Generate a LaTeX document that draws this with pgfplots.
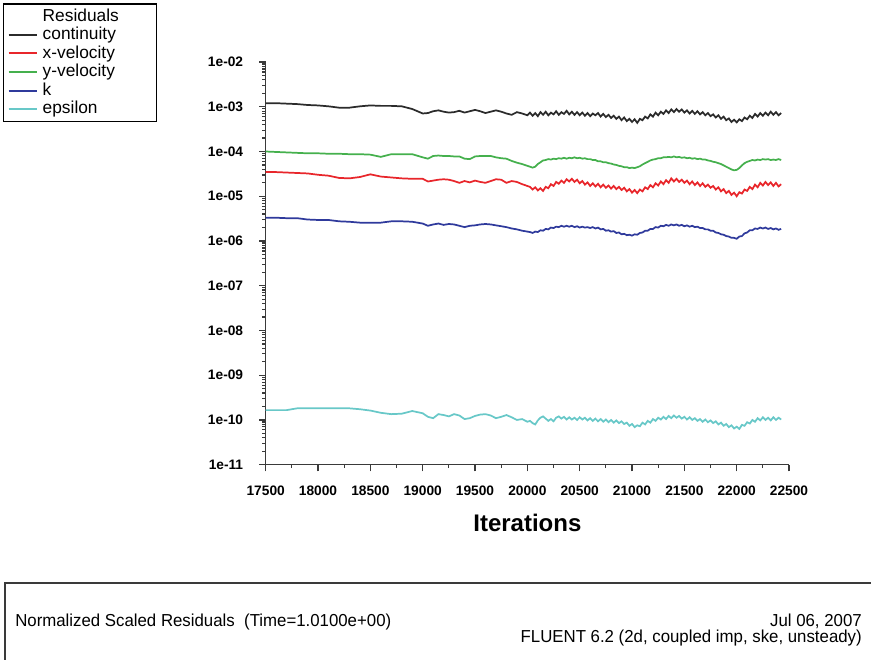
\documentclass[border=0pt]{standalone}
\usepackage{fontspec}
\setmainfont{Liberation Sans}
\newfontfamily\narrowfont[FakeStretch=0.97]{Liberation Sans}
\usepackage{pgfplots}
\usepackage{pgfplotstable}
\pgfplotsset{compat=1.18}
\definecolor{axisgray}{HTML}{3A3A3A}
\definecolor{ccont}{HTML}{2B2B2B}
\definecolor{cxv}{HTML}{E8262B}
\definecolor{cyv}{HTML}{45B04D}
\definecolor{ck}{HTML}{2F3A9C}
\definecolor{ceps}{HTML}{68C8C8}

% log10 of the residuals
\pgfplotstableread{
it c xv yv k eps
17500 -2.92 -4.46 -4.00 -5.48 -9.78
17600 -2.92 -4.46 -4.01 -5.48 -9.78
17700 -2.93 -4.47 -4.02 -5.49 -9.78
17800 -2.94 -4.48 -4.03 -5.49 -9.74
17900 -2.96 -4.49 -4.04 -5.52 -9.74
18000 -2.97 -4.52 -4.04 -5.53 -9.74
18100 -2.99 -4.54 -4.05 -5.53 -9.74
18200 -3.02 -4.59 -4.05 -5.56 -9.74
18300 -3.02 -4.60 -4.06 -5.57 -9.74
18400 -2.99 -4.57 -4.06 -5.59 -9.76
18500 -2.97 -4.51 -4.07 -5.59 -9.79
18600 -2.98 -4.56 -4.12 -5.59 -9.84
18700 -2.98 -4.58 -4.06 -5.56 -9.87
18800 -2.99 -4.60 -4.06 -5.56 -9.86
18900 -3.05 -4.61 -4.06 -5.57 -9.80
19000 -3.15 -4.61 -4.13 -5.61 -9.85
19050 -3.14 -4.67 -4.16 -5.66 -9.93
19100 -3.10 -4.65 -4.10 -5.63 -9.96
19150 -3.08 -4.63 -4.09 -5.61 -9.87
19200 -3.11 -4.62 -4.10 -5.64 -9.89
19250 -3.13 -4.63 -4.10 -5.62 -9.92
19300 -3.12 -4.66 -4.11 -5.63 -9.87
19350 -3.09 -4.70 -4.11 -5.66 -9.90
19400 -3.13 -4.66 -4.16 -5.69 -9.98
19450 -3.10 -4.69 -4.17 -5.66 -9.96
19500 -3.07 -4.65 -4.11 -5.65 -9.91
19550 -3.10 -4.68 -4.10 -5.63 -9.88
19600 -3.14 -4.70 -4.10 -5.62 -9.87
19650 -3.11 -4.66 -4.10 -5.63 -9.90
19700 -3.08 -4.62 -4.13 -5.65 -9.96
19750 -3.11 -4.63 -4.15 -5.67 -9.93
19800 -3.15 -4.70 -4.16 -5.69 -9.89
19850 -3.18 -4.66 -4.21 -5.72 -9.94
19900 -3.12 -4.68 -4.25 -5.74 -10.00
19950 -3.15 -4.73 -4.28 -5.77 -9.98
20000 -3.19 -4.77 -4.32 -5.79 -10.04
20025 -3.13 -4.79 -4.34 -5.80 -10.02
20050 -3.20 -4.85 -4.36 -5.82 -10.07
20075 -3.14 -4.80 -4.34 -5.79 -10.10
20100 -3.21 -4.87 -4.28 -5.80 -10.01
20125 -3.12 -4.82 -4.24 -5.76 -9.95
20150 -3.18 -4.88 -4.20 -5.77 -9.92
20175 -3.11 -4.79 -4.19 -5.73 -9.97
20200 -3.19 -4.82 -4.17 -5.74 -10.02
20225 -3.13 -4.73 -4.18 -5.70 -9.98
20250 -3.17 -4.77 -4.16 -5.71 -10.03
20275 -3.10 -4.68 -4.17 -5.68 -9.95
20300 -3.18 -4.72 -4.15 -5.69 -9.92
20325 -3.12 -4.65 -4.16 -5.66 -9.97
20350 -3.16 -4.70 -4.14 -5.68 -9.93
20375 -3.09 -4.62 -4.16 -5.66 -9.99
20400 -3.17 -4.67 -4.14 -5.68 -9.94
20425 -3.11 -4.61 -4.15 -5.66 -9.99
20450 -3.18 -4.68 -4.13 -5.69 -9.95
20475 -3.12 -4.63 -4.15 -5.67 -10.00
20500 -3.19 -4.71 -4.14 -5.70 -9.94
20525 -3.13 -4.66 -4.16 -5.68 -9.99
20550 -3.20 -4.74 -4.15 -5.70 -9.95
20575 -3.14 -4.69 -4.17 -5.69 -10.01
20600 -3.21 -4.77 -4.17 -5.71 -9.96
20625 -3.15 -4.71 -4.19 -5.69 -10.02
20650 -3.19 -4.78 -4.19 -5.72 -9.97
20675 -3.14 -4.72 -4.22 -5.70 -10.03
20700 -3.22 -4.80 -4.22 -5.74 -9.98
20725 -3.16 -4.74 -4.24 -5.73 -10.04
20750 -3.23 -4.81 -4.24 -5.77 -9.99
20775 -3.18 -4.76 -4.26 -5.76 -10.05
20800 -3.25 -4.83 -4.27 -5.79 -10.00
20825 -3.20 -4.77 -4.29 -5.78 -10.06
20850 -3.27 -4.84 -4.30 -5.82 -10.01
20875 -3.22 -4.79 -4.32 -5.81 -10.07
20900 -3.30 -4.86 -4.33 -5.85 -10.03
20925 -3.24 -4.81 -4.35 -5.84 -10.09
20950 -3.32 -4.89 -4.35 -5.87 -10.06
20975 -3.27 -4.84 -4.37 -5.86 -10.13
21000 -3.34 -4.92 -4.36 -5.88 -10.09
21025 -3.28 -4.86 -4.37 -5.85 -10.16
21050 -3.36 -4.93 -4.35 -5.86 -10.12
21075 -3.27 -4.85 -4.33 -5.82 -10.14
21100 -3.30 -4.89 -4.29 -5.81 -10.06
21125 -3.22 -4.80 -4.26 -5.77 -10.10
21150 -3.26 -4.84 -4.23 -5.77 -10.02
21175 -3.17 -4.75 -4.20 -5.73 -10.06
21200 -3.22 -4.80 -4.18 -5.73 -9.98
21225 -3.13 -4.71 -4.17 -5.69 -10.02
21250 -3.19 -4.76 -4.15 -5.70 -9.95
21275 -3.11 -4.67 -4.15 -5.66 -9.99
21300 -3.16 -4.73 -4.13 -5.67 -9.93
21325 -3.08 -4.64 -4.13 -5.64 -9.98
21350 -3.14 -4.70 -4.12 -5.66 -9.91
21375 -3.06 -4.60 -4.13 -5.63 -9.96
21400 -3.12 -4.67 -4.11 -5.65 -9.90
21425 -3.05 -4.61 -4.13 -5.63 -9.95
21450 -3.11 -4.68 -4.12 -5.66 -9.91
21475 -3.06 -4.63 -4.14 -5.64 -9.97
21500 -3.13 -4.70 -4.13 -5.67 -9.93
21525 -3.08 -4.65 -4.15 -5.65 -9.99
21550 -3.15 -4.73 -4.14 -5.68 -9.94
21575 -3.09 -4.67 -4.16 -5.66 -10.00
21600 -3.16 -4.75 -4.15 -5.69 -9.96
21625 -3.10 -4.69 -4.17 -5.68 -10.02
21650 -3.17 -4.77 -4.16 -5.71 -9.98
21675 -3.12 -4.71 -4.18 -5.71 -10.04
21700 -3.19 -4.79 -4.18 -5.74 -9.99
21725 -3.14 -4.74 -4.20 -5.74 -10.05
21750 -3.21 -4.81 -4.21 -5.77 -10.01
21775 -3.17 -4.77 -4.23 -5.77 -10.07
21800 -3.24 -4.85 -4.24 -5.81 -10.03
21825 -3.19 -4.80 -4.26 -5.82 -10.10
21850 -3.27 -4.89 -4.28 -5.85 -10.06
21875 -3.22 -4.84 -4.31 -5.86 -10.13
21900 -3.30 -4.93 -4.34 -5.89 -10.09
21925 -3.26 -4.88 -4.37 -5.90 -10.16
21950 -3.34 -4.97 -4.40 -5.93 -10.12
21975 -3.29 -4.92 -4.42 -5.93 -10.19
22000 -3.35 -5.00 -4.41 -5.95 -10.15
22025 -3.28 -4.91 -4.37 -5.90 -10.20
22050 -3.32 -4.94 -4.31 -5.89 -10.11
22075 -3.24 -4.85 -4.26 -5.83 -10.13
22100 -3.28 -4.88 -4.23 -5.81 -10.05
22125 -3.20 -4.79 -4.21 -5.76 -10.08
22150 -3.25 -4.84 -4.19 -5.76 -10.00
22175 -3.16 -4.74 -4.20 -5.72 -10.04
22200 -3.22 -4.80 -4.18 -5.73 -9.96
22225 -3.14 -4.70 -4.19 -5.70 -10.01
22250 -3.20 -4.76 -4.17 -5.72 -9.94
22275 -3.13 -4.68 -4.18 -5.70 -10.00
22300 -3.19 -4.75 -4.17 -5.73 -9.95
22325 -3.11 -4.69 -4.19 -5.71 -10.01
22350 -3.18 -4.77 -4.18 -5.74 -9.94
22375 -3.12 -4.70 -4.19 -5.72 -10.00
22400 -3.19 -4.78 -4.17 -5.75 -9.95
22425 -3.14 -4.73 -4.19 -5.73 -9.99
}\resid

\begin{document}
\begin{tikzpicture}
\useasboundingbox (0,0) rectangle (653.25pt,495pt);
\begin{axis}[
  at={(199.275pt,146.475pt)}, anchor=south west,
  scale only axis, width=392.5pt, height=302pt,
  xmin=17500, xmax=22500, ymin=1e-11, ymax=1e-2, ymode=log,
  axis x line*=bottom, axis y line*=left,
  axis line style={line width=1.1pt, color=axisgray},
  tick align=outside,
  major tick length=5pt, minor tick length=2.5pt,
  tick style={line width=0.9pt, color=axisgray},
  xtick={17500,18000,18500,19000,19500,20000,20500,21000,21500,22000,22500},
  xticklabels={17500,18000,18500,19000,19500,20000,20500,21000,21500,22000,22500},
  minor x tick num=1,
  scaled x ticks=false,
  ytick={1e-11,1e-10,1e-9,1e-8,1e-7,1e-6,1e-5,1e-4,1e-3,1e-2},
  yticklabels={1e-11,1e-10,1e-09,1e-08,1e-07,1e-06,1e-05,1e-04,1e-03,1e-02},
  minor ytick={2e-11,3e-11,4e-11,5e-11,6e-11,7e-11,8e-11,9e-11,
    2e-10,3e-10,4e-10,5e-10,6e-10,7e-10,8e-10,9e-10,
    2e-9,3e-9,4e-9,5e-9,6e-9,7e-9,8e-9,9e-9,
    2e-8,3e-8,4e-8,5e-8,6e-8,7e-8,8e-8,9e-8,
    2e-7,3e-7,4e-7,5e-7,6e-7,7e-7,8e-7,9e-7,
    2e-6,3e-6,4e-6,5e-6,6e-6,7e-6,8e-6,9e-6,
    2e-5,3e-5,4e-5,5e-5,6e-5,7e-5,8e-5,9e-5,
    2e-4,3e-4,4e-4,5e-4,6e-4,7e-4,8e-4,9e-4,
    2e-3,3e-3,4e-3,5e-3,6e-3,7e-3,8e-3,9e-3},
  ticklabel style={font=\fontsize{10.3pt}{12pt}\selectfont\bfseries, text=black},
  yticklabel style={xshift=-8.4pt},
  xticklabel style={yshift=-7pt},
  xlabel={Iterations},
  xlabel style={font=\fontsize{18pt}{20pt}\selectfont\bfseries, at={(axis description cs:0.5,-0.144)}, anchor=center},
  legend style={at={(-0.502,1.1465)}, anchor=north west, draw=black, line width=1.1pt, fill=white,
    inner xsep=3pt, inner ysep=2.5pt, font=\fontsize{13pt}{14pt}\selectfont,
    nodes={inner sep=0pt, text height=10.5pt, text depth=3.4pt},
    column sep=3.75pt, row sep=0pt},
  legend cell align=left,
  legend image code/.code={\draw[#1, line width=1.5pt] (0pt,0pt) -- (21pt,0pt);},
  every axis plot/.append style={line width=1.3pt},
]
\addlegendimage{empty legend}
\addlegendentry{\makebox[82.5pt][l]{Residuals}}
\addplot[ccont, no marks] table[x=it, y expr={10^(\thisrow{c})}] {\resid};
\addlegendentry{continuity}
\addplot[cxv, no marks] table[x=it, y expr={10^(\thisrow{xv})}] {\resid};
\addlegendentry{x-velocity}
\addplot[cyv, no marks] table[x=it, y expr={10^(\thisrow{yv})}] {\resid};
\addlegendentry{y-velocity}
\addplot[ck, no marks] table[x=it, y expr={10^(\thisrow{k})}] {\resid};
\addlegendentry{k}
\addplot[ceps, no marks] table[x=it, y expr={10^(\thisrow{eps})}] {\resid};
\addlegendentry{epsilon}
\end{axis}
\begin{scope}[x=0.75pt, y=0.75pt]
\draw[line width=1.5pt, axisgray] (5,-5) -- (5,77) -- (880,77);
\node[anchor=base west, inner sep=0pt, font={\narrowfont\fontsize{13pt}{15pt}\selectfont}] at (15,33) {Normalized Scaled Residuals\ \ (Time=1.0100e+00)};
\node[anchor=base east, inner sep=0pt, font={\narrowfont\fontsize{13pt}{15pt}\selectfont}] at (862,33) {Jul 06, 2007};
\node[anchor=base east, inner sep=0pt, font={\narrowfont\fontsize{13pt}{15pt}\selectfont}] at (862,17) {FLUENT 6.2 (2d, coupled imp, ske, unsteady)};
\end{scope}
\end{tikzpicture}
\end{document}
